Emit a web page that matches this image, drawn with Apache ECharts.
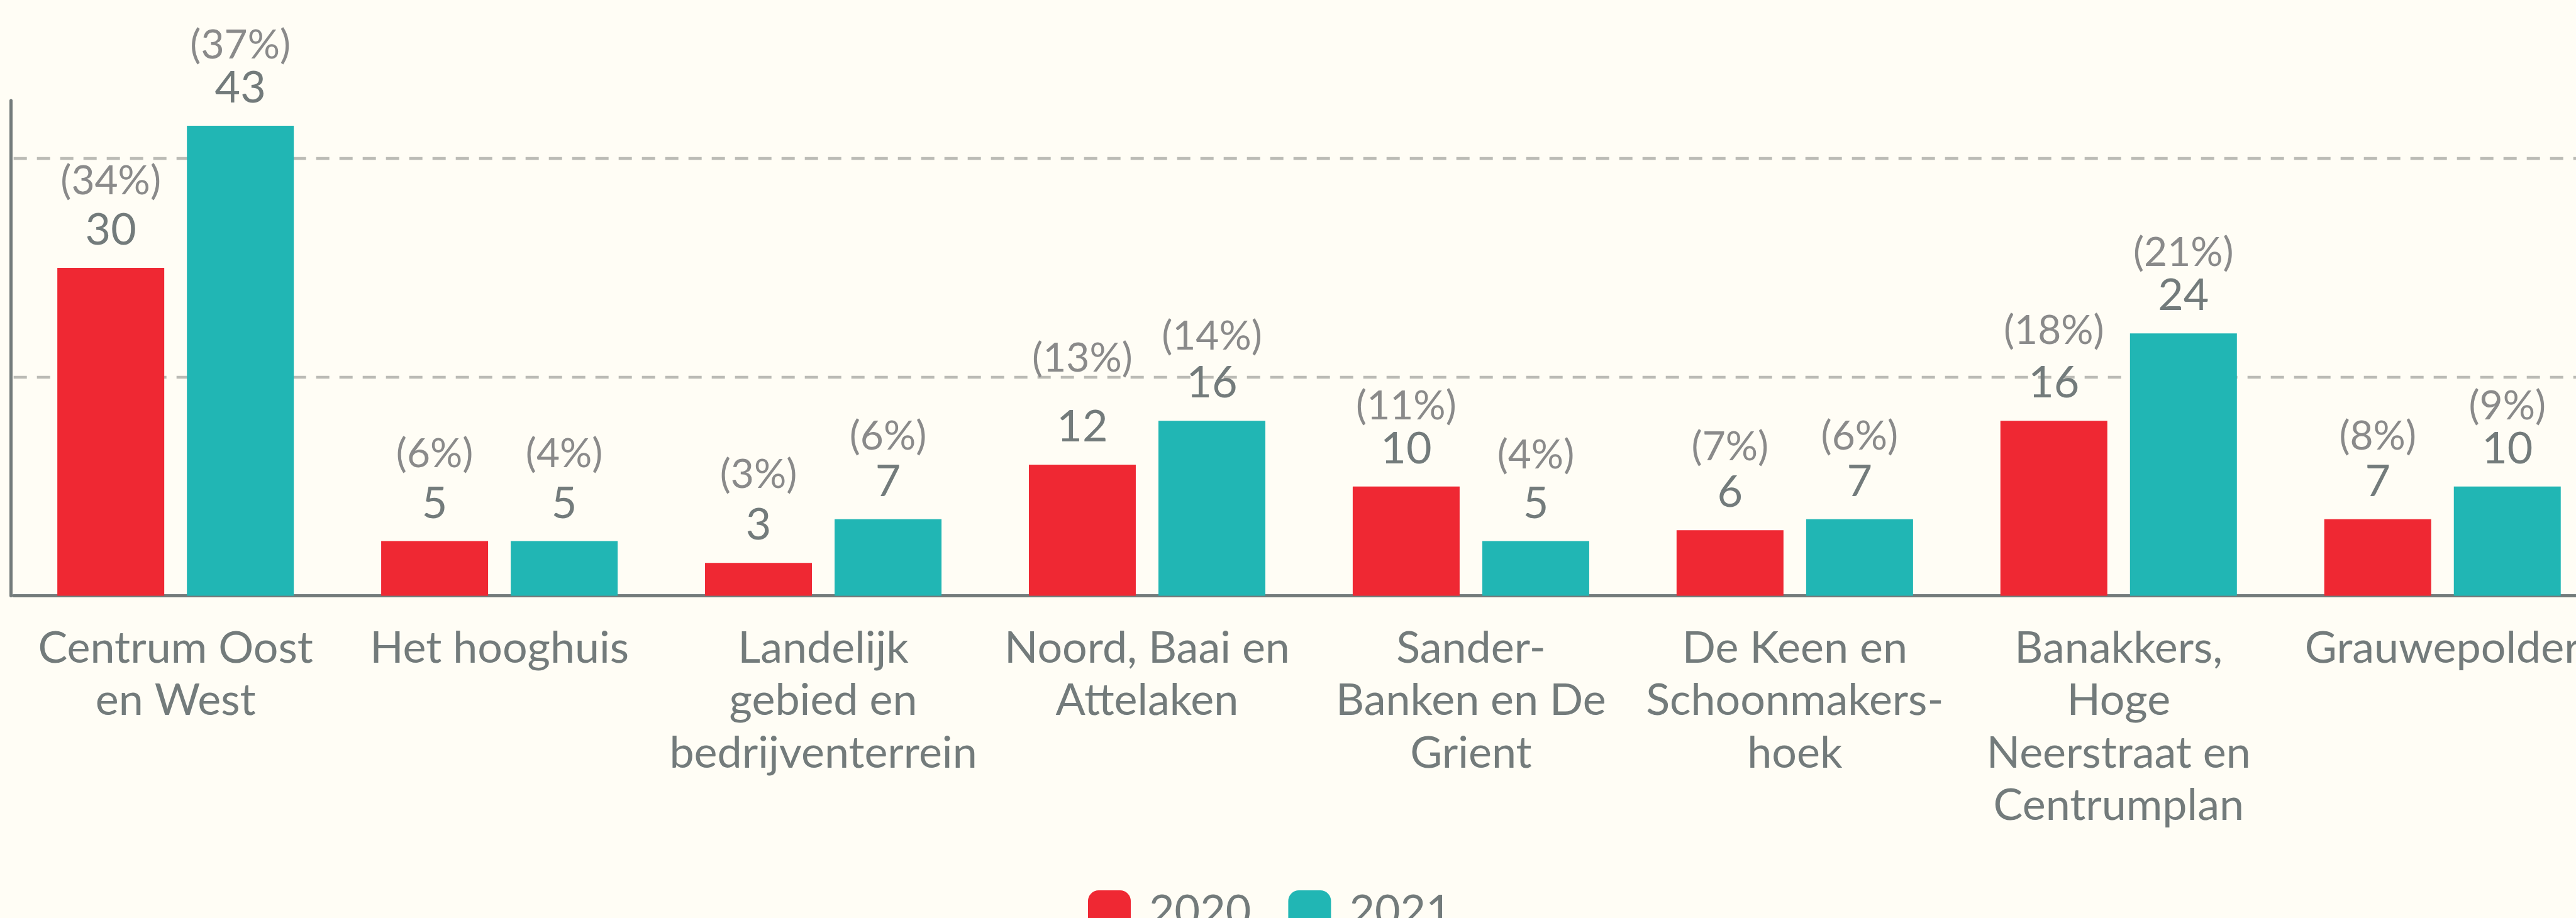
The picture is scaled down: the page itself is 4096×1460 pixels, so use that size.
<!DOCTYPE html>
<html>
<head>
<meta charset="utf-8">
<script src="https://cdn.jsdelivr.net/npm/echarts@6/dist/echarts.min.js"></script>
<style>
  html, body { margin: 0; padding: 0; background: #fffdf5; }
  #main { width: 4096px; height: 1460px; }
</style>
</head>
<body>
<div id="main"></div>
<script>
// wijken (labels already broken over lines like the original)
var categories = [
  'Centrum Oost\nen West',
  'Het hooghuis',
  'Landelijk\ngebied en\nbedrijventerrein',
  'Noord, Baai en\nAttelaken',
  'Sander-\nBanken en De\nGrient',
  'De Keen en\nSchoonmakers-\nhoek',
  'Banakkers,\nHoge\nNeerstraat en\nCentrumplan',
  'Grauwepolder'
];
var years = ['2020', '2021'];
var values2020 = [30, 5, 3, 12, 10, 6, 16, 7];
var values2021 = [43, 5, 7, 16, 5, 7, 24, 10];
var pct2020 = [34, 6, 3, 13, 11, 7, 18, 8];
var pct2021 = [37, 4, 6, 14, 4, 6, 21, 9];

// the (xx%) line sits a little irregularly above the value in the original,
// so keep its spacing (px, baseline to baseline) per bar
var pctSpacing2020 = [79, 80, 81, 110, 69, 73, 84, 73];
var pctSpacing2021 = [69, 80, 73, 75, 78, 73, 69, 69];

var grey = '#737b7b';
var font = 'Lato';

var chart = echarts.init(document.getElementById('main'));

function makeLabel(pcts, spacing) {
  var rich = {
    v: { fontFamily: font, fontSize: 70, lineHeight: 79, color: grey }
  };
  spacing.forEach(function (s, i) {
    rich['p' + i] = {
      fontFamily: font, fontSize: 64, lineHeight: 2 * s - 81, color: '#8a8a8a'
    };
  });
  return {
    show: true,
    position: 'top',
    distance: 20,
    formatter: function (p) {
      return '{p' + p.dataIndex + '|(' + pcts[p.dataIndex] + '%)}\n{v|' + p.value + '}';
    },
    rich: rich
  };
}

var option = {
  backgroundColor: '#fffdf5',
  animation: false,
  grid: {
    left: 21.7,
    width: 4119.5,   // chart runs a bit past the right edge, as in the original
    top: 160,
    bottom: 512.5,
    containLabel: false,
    outerBoundsMode: 'none'
  },
  legend: {
    data: years,
    left: 1725,
    top: 1410,
    itemWidth: 68,
    itemHeight: 68,
    itemGap: 59,
    icon: 'roundRect',
    textStyle: {
      fontFamily: font,
      fontSize: 70,
      color: grey,
      padding: [0, 0, 0, 24]
    }
  },
  xAxis: {
    type: 'category',
    data: categories,
    axisLine: { lineStyle: { color: grey, width: 5 } },
    axisTick: { show: false },
    axisLabel: {
      interval: 0,
      margin: 42,
      fontFamily: font,
      fontSize: 70,
      lineHeight: 83.5,
      color: grey,
      align: 'center'
    }
  },
  yAxis: {
    type: 'value',
    min: 0,
    max: 45.3,
    interval: 20,
    offset: 4,
    axisLine: { show: true, lineStyle: { color: grey, width: 5 } },
    axisTick: { show: false },
    axisLabel: { show: false },
    splitLine: {
      showMinLine: false,
      showMaxLine: false,
      lineStyle: { color: '#bbbbb5', width: 4.4, type: [21, 16] }
    }
  },
  series: [
    {
      name: years[0],
      type: 'bar',
      data: values2020,
      barWidth: 170,
      barGap: '21.2%',
      itemStyle: { color: '#ef2833' },
      label: makeLabel(pct2020, pctSpacing2020)
    },
    {
      name: years[1],
      type: 'bar',
      data: values2021,
      barWidth: 170,
      barGap: '21.2%',
      itemStyle: { color: '#21b6b4' },
      label: makeLabel(pct2021, pctSpacing2021)
    }
  ]
};

chart.setOption(option);
</script>
</body>
</html>
